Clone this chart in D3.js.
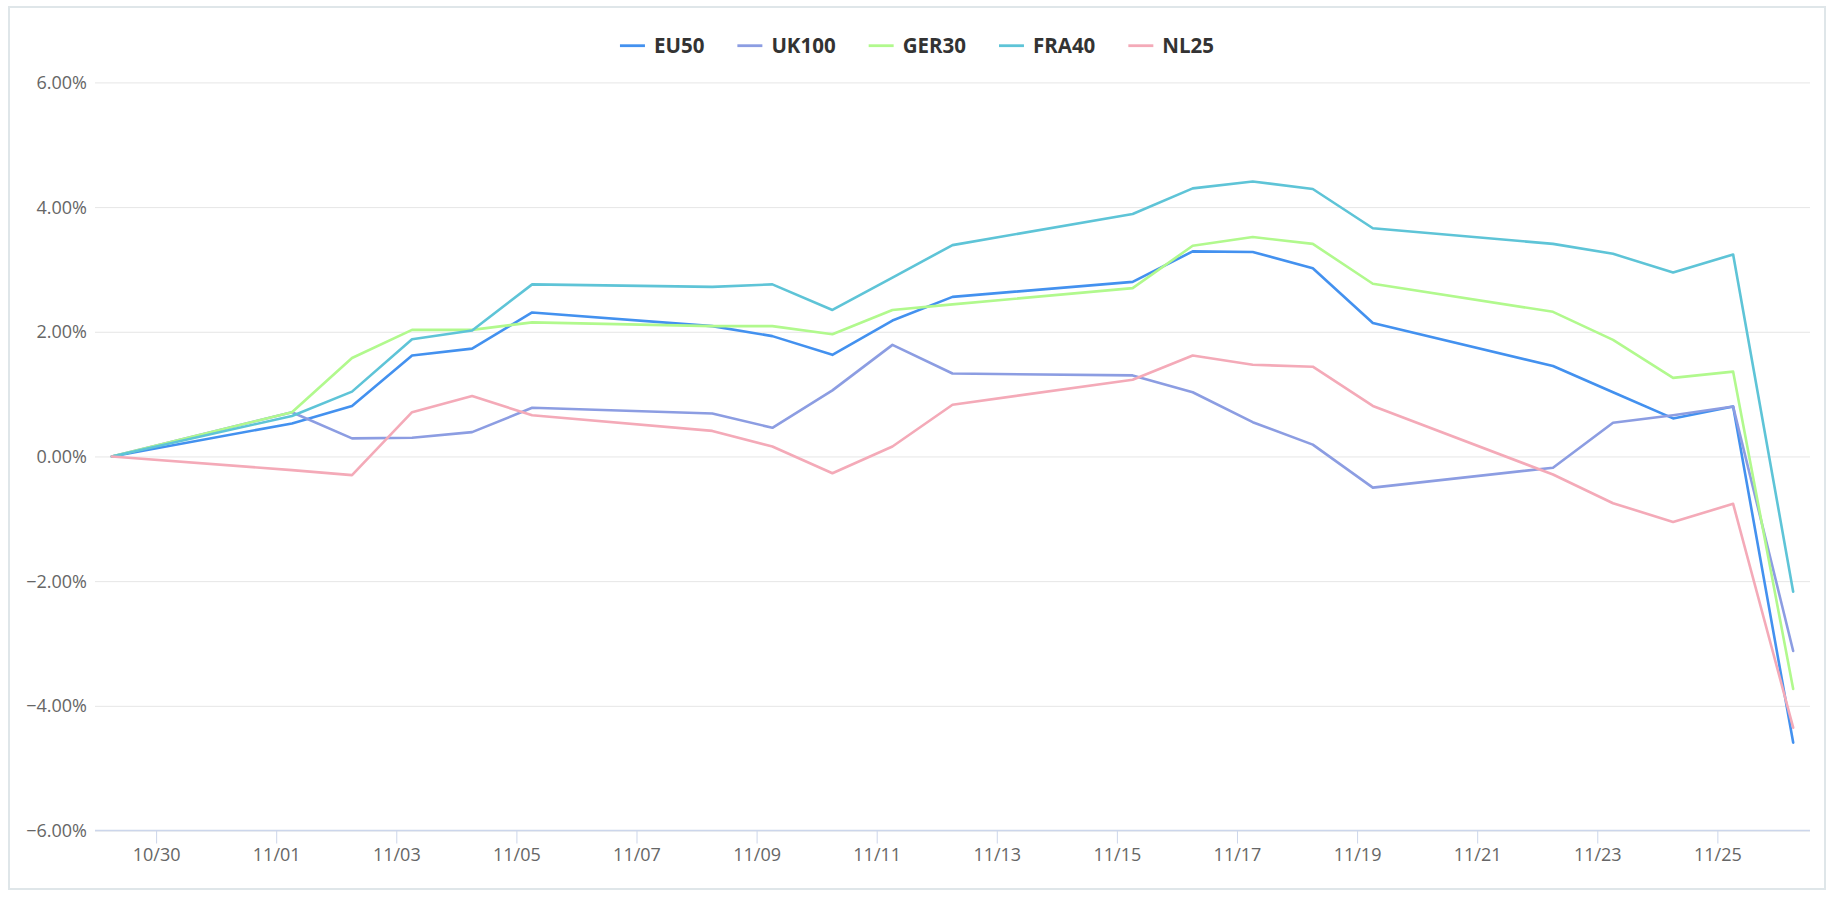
<!DOCTYPE html>
<html>
<head>
<meta charset="utf-8">
<script src="https://cdn.jsdelivr.net/npm/d3@7/dist/d3.min.js"></script>
<style>
  html, body { margin: 0; padding: 0; background: #fff; }
  svg { display: block; }
</style>
</head>
<body>
<svg id="chart" width="1838" height="900"></svg>
<script>
// ---- data ----
const dates = ["2021-10-29","2021-11-01","2021-11-02","2021-11-03","2021-11-04","2021-11-05",
  "2021-11-08","2021-11-09","2021-11-10","2021-11-11","2021-11-12",
  "2021-11-15","2021-11-16","2021-11-17","2021-11-18","2021-11-19",
  "2021-11-22","2021-11-23","2021-11-24","2021-11-25","2021-11-26"];
const seriesNames = ["EU50", "UK100", "GER30", "FRA40", "NL25"];
const seriesColors = ["#4391ef", "#8c9de2", "#b1f98d", "#5ec4d7", "#f4aab8"];
const eu50  = [0, 0.53, 0.81, 1.62, 1.73, 2.31, 2.09, 1.93, 1.63, 2.18, 2.56, 2.80, 3.29, 3.28, 3.02, 2.14, 1.45, 1.03, 0.61, 0.80, -4.59];
const uk100 = [0, 0.71, 0.29, 0.30, 0.39, 0.78, 0.69, 0.46, 1.06, 1.79, 1.33, 1.30, 1.03, 0.55, 0.19, -0.50, -0.18, 0.54, 0.66, 0.80, -3.12];
const ger30 = [0, 0.71, 1.58, 2.03, 2.03, 2.15, 2.09, 2.09, 1.96, 2.35, 2.44, 2.70, 3.38, 3.52, 3.41, 2.77, 2.32, 1.87, 1.26, 1.36, -3.73];
const fra40 = [0, 0.65, 1.04, 1.88, 2.02, 2.76, 2.72, 2.76, 2.35, 2.87, 3.39, 3.89, 4.30, 4.41, 4.29, 3.66, 3.41, 3.25, 2.95, 3.24, -2.17];
const nl25  = [0, -0.22, -0.30, 0.71, 0.97, 0.66, 0.41, 0.16, -0.27, 0.16, 0.83, 1.23, 1.62, 1.47, 1.44, 0.81, -0.29, -0.75, -1.05, -0.76, -4.35];
const seriesValues = [eu50, uk100, ger30, fra40, nl25];
const yTicks = [-6, -4, -2, 0, 2, 4, 6];
const xTickDates = ["2021-10-30","2021-11-01","2021-11-03","2021-11-05","2021-11-07","2021-11-09","2021-11-11",
  "2021-11-13","2021-11-15","2021-11-17","2021-11-19","2021-11-21","2021-11-23","2021-11-25"];

// ---- layout ----
const W = 1838, H = 900;
const plot = { left: 95, right: 1810, top: 82.4, bottom: 830.5 };
const svg = d3.select("#chart");
const parse = d3.utcParse("%Y-%m-%d");
const hourOffset = 6.3; // data timestamps sit a few hours after midnight
const pointTime = s => new Date(parse(s).getTime() + hourOffset * 3600e3);
const xs = dates.map(pointTime);
const t0 = xs[0].getTime(), t1 = xs[xs.length - 1].getTime();
const pad = (t1 - t0) * 0.01;

const x = d3.scaleUtc().domain([new Date(t0 - pad), new Date(t1 + pad)]).range([plot.left, plot.right]);
const y = d3.scaleLinear().domain([-6, 6]).range([plot.bottom, plot.top]);

// outer frame
svg.append("rect").attr("x", 9).attr("y", 7).attr("width", 1816).attr("height", 882)
  .attr("fill", "#fff").attr("stroke", "#dfe6e9").attr("stroke-width", 2);

// gridlines + y labels
const yAxis = d3.axisLeft(y).tickValues(yTicks).tickSize(-(plot.right - plot.left))
  .tickFormat(d => d3.format(".2f")(d) + "%").tickPadding(8);
const gy = svg.append("g").attr("transform", `translate(${plot.left},0)`).call(yAxis);
gy.select(".domain").remove();
gy.selectAll(".tick line").attr("stroke", "#e6e6e6").attr("stroke-width", 1);
gy.selectAll(".tick text").attr("fill", "#666").attr("font-family", "'Open Sans', sans-serif")
  .attr("font-size", 18).attr("x", -8).attr("dy", "0.34em")
  .text(d => (d < 0 ? "\u2212" + d3.format(".2f")(-d) : d3.format(".2f")(d)) + "%");

// x axis
const xAxis = d3.axisBottom(x).tickValues(xTickDates.map(s => parse(s)))
  .tickFormat(d3.utcFormat("%m/%d")).tickSize(13).tickPadding(5);
const gx = svg.append("g").attr("transform", `translate(0,${plot.bottom})`).call(xAxis);
gx.select(".domain").attr("stroke", "#ccd6eb").attr("stroke-width", 1.5)
  .attr("d", `M${plot.left},0H${plot.right}`);
gx.selectAll(".tick line").attr("stroke", "#ccd6eb");
gx.selectAll(".tick text").attr("fill", "#666").attr("font-family", "'Open Sans', sans-serif")
  .attr("font-size", 18);

// lines
const line = d3.line().x((d, i) => x(xs[i])).y(d => y(d));
seriesValues.forEach((vals, k) => {
  svg.append("path").datum(vals).attr("d", line)
    .attr("fill", "none").attr("stroke", seriesColors[k]).attr("stroke-width", 2.6)
    .attr("stroke-linejoin", "round").attr("stroke-linecap", "round");
});

// legend
const legend = svg.append("g");
let cx = 0;
seriesNames.forEach((name, k) => {
  const g = legend.append("g");
  g.append("line").attr("x1", 0).attr("x2", 25).attr("y1", 0).attr("y2", 0)
    .attr("stroke", seriesColors[k]).attr("stroke-width", 2.8);
  const t = g.append("text").attr("x", 34).attr("y", 0).attr("dy", "0.35em")
    .attr("font-family", "'Open Sans', sans-serif").attr("font-weight", "bold")
    .attr("font-size", 20.5).attr("fill", "#333").text(name);
  const w = 34 + t.node().getComputedTextLength();
  g.attr("transform", `translate(${cx},0)`);
  cx += w + 33;
});
const totalW = cx - 33;
legend.attr("transform", `translate(${917 - totalW / 2},45.7)`);
</script>
</body>
</html>
